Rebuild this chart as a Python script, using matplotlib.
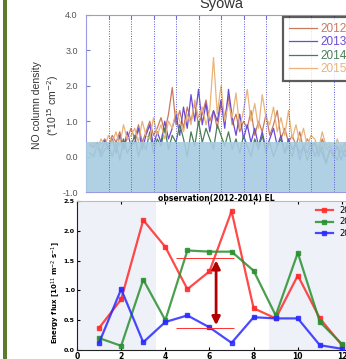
import numpy as np
import matplotlib
matplotlib.use("Agg")
import matplotlib.pyplot as plt
from matplotlib.patches import Rectangle

# ---------------- data: top panel (NO column density, Syowa) ----------------
# sampled every 1/6 month, months 1/6 .. 12
months_top = [(i + 1) / 6 for i in range(72)]
no_2012 = [0.3, 0.25, 0.4, 0.35, 0.5, 0.3,
           0.6, 0.4, 0.7, 0.3, 0.5, 0.8,
           0.5, 0.9, 0.4, 0.7, 1.0, 0.6,
           0.8, 1.1, 0.7, 1.2, 1.95, 0.9,
           1.3, 0.8, 1.4, 1.0, 1.5, 0.9,
           1.2, 1.6, 1.0, 1.3, 0.8, 1.5,
           1.1, 1.7, 0.9, 1.2, 0.7, 1.0,
           0.8, 1.3, 0.6, 1.0, 0.7, 1.2,
           0.6, 0.9, 1.3, 0.5, 0.8, 0.4,
           0.6, 0.3, 0.7, 0.2, 0.5, 0.3,
           0.4, 0.1, 0.5, 0.2, 0.3, 0.0,
           0.3, 0.1, 0.4, -0.1, 0.2, 0.1]
no_2013 = [0.35, 0.3, 0.4, 0.1, 0.45, 0.2,
           0.5, 0.1, 0.6, 0.2, 0.7, 0.3,
           0.4, 0.8, 0.2, 0.6, 0.9, 0.3,
           0.7, 0.4, 1.0, 0.5, 0.8, 1.2,
           0.6, 1.4, 0.8, 1.75, 1.0, 1.9,
           0.9, 1.5, 0.7, 1.3, 1.0, 1.6,
           0.8, 1.9, 1.1, 0.6, 1.2, 0.5,
           0.9, 0.4, 0.8, 0.3, 0.7, 0.2,
           0.5, 0.8, 0.3, 0.6, 0.1, 0.5,
           0.2, 0.4, -0.1, 0.3, 0.1, 0.4,
           0.0, 0.3, 0.1, -0.2, 0.2, 0.0,
           0.3, -0.1, 0.2, 0.0, 0.3, 0.1]
no_2014 = [0.1, 0.0, 0.3, 0.0, 0.2, 0.3,
           0.0, 0.4, -0.1, 0.5, 0.1, 0.3,
           0.6, 0.0, 0.4, 0.2, 0.7, 0.1,
           0.5, 0.3, 0.8, 0.2, 0.6, 0.4,
           0.9, 0.5, 0.0, 0.7, 0.3, 1.0,
           0.4, 0.8, 0.5, 0.2, 0.9, 0.6,
           0.3, 0.7, 0.2, 0.5, 0.1, 0.6,
           0.3, 0.0, 0.5, 0.2, 0.6, 0.1,
           0.4, 0.0, 0.3, 0.5, 0.1, 0.3,
           0.0, 0.4, 0.1, 0.3, -0.1, 0.2,
           0.4, 0.0, 0.3, -0.2, 0.2, 0.1,
           -0.1, 0.3, 0.0, 0.2, -0.3, 0.1]
no_2015 = [0.3, 0.4, 0.2, 0.5, 0.3, 0.6,
           0.4, 0.7, 0.3, 0.9, 0.5, 0.6,
           0.8, 0.4, 1.0, 0.6, 0.5, 1.1,
           0.6, 0.9, 0.5, 1.0, 0.8, 1.3,
           1.0, 0.7, 1.2, 0.9, 1.6, 1.1,
           1.4, 0.9, 1.3, 2.8, 1.2, 2.0,
           1.0, 1.5, 1.1, 1.8, 0.8, 1.3,
           1.9, 1.0, 1.5, 0.8, 1.75, 1.1,
           0.9, 1.4, 0.7, 1.1, 0.6, 1.3,
           0.5, 0.9, 0.4, 0.8, 0.3, 0.6,
           0.5, 0.2, 0.7, 0.3, 0.4, 0.1,
           0.5, 0.2, 0.3, 0.0, 0.4, 0.2]
top_years = ["2012", "2013", "2014", "2015"]
top_colors = ["#c97a5c", "#6a4bd6", "#4a7d57", "#e8b47a"]
top_yticks = [-1.0, 0.0, 1.0, 2.0, 3.0, 4.0]
shade_level = 0.4

# ---------------- data: bottom panel (monthly energy flux) ----------------
months_bot = [1, 2, 3, 4, 5, 6, 7, 8, 9, 10, 11, 12]
flux_red = [0.37, 0.85, 2.18, 1.73, 1.02, 1.32, 2.33, 0.70, 0.53, 1.25, 0.53, 0.08]
flux_green = [0.20, 0.07, 1.18, 0.50, 1.67, 1.65, 1.65, 1.33, 0.58, 1.63, 0.47, 0.10]
flux_blue = [0.12, 1.02, 0.13, 0.47, 0.58, 0.38, 0.12, 0.55, 0.53, 0.53, 0.08, 0.02]
bot_labels = ["2012", "2013", "2014"]
bot_colors = ["#ff2a2a", "#2a9030", "#2a2aff"]
bot_xticks = [0, 2, 4, 6, 8, 10, 12]
bot_yticks = [0.0, 0.5, 1.0, 1.5, 2.0, 2.5]
ref_high, ref_low = 1.55, 0.37
arrow_x = 6.3

W, H = 346, 359
fig = plt.figure(figsize=(W / 100, H / 100), dpi=100)
fig.patch.set_facecolor("white")

def fx(px):
    return px / W

def fy(py):
    return 1 - py / H

# green border on the left
fig.add_artist(Rectangle((fx(3), 0), fx(4), 1, transform=fig.transFigure,
                         facecolor="#5e7a2e", edgecolor="none"))

# ---------------- top axes ----------------
ax1 = fig.add_axes([fx(86), fy(192), fx(270), fy(15) - fy(192)])
for yr, vals, c in zip(top_years, [no_2012, no_2013, no_2014, no_2015], top_colors):
    ax1.plot(months_top, vals, color=c, lw=0.9, label=yr, zorder=2)
ax1.axhspan(-1.0, shade_level, color="#a8cce0", alpha=0.9, zorder=3, lw=0)
for m in range(1, 12):
    ax1.axvline(m, color="#5a5ad8", lw=0.7, ls=(0, (1, 1.5)), zorder=4)
ax1.set_xlim(0, 12)
ax1.set_ylim(-1.0, 4.0)
ax1.set_yticks(top_yticks)
ax1.set_yticklabels([f"{v:.1f}" for v in top_yticks], fontsize=6.5, color="#555555",
                    family="Liberation Sans")
ax1.set_xticks(range(1, 12))
ax1.tick_params(axis="x", which="both", top=True, bottom=False, labelbottom=False,
                direction="in", length=3, color="#7a7ad8")
ax1.tick_params(axis="y", direction="in", length=3, color="#7a7ad8", pad=6)
for s in ax1.spines.values():
    s.set_color("#9a9ae0")
    s.set_linewidth(0.8)
ax1.set_title("Syowa", fontsize=10.5, color="#333333", pad=5, family="Liberation Sans")
fig.text(fx(37), fy(105), "NO column density", rotation=90, ha="center", va="center",
         fontsize=7.5, color="#333333", family="Liberation Sans")
fig.text(fx(53), fy(105), r"(*10$^{15}$ cm$^{-2}$)", rotation=90, ha="center", va="center",
         fontsize=7.5, color="#333333", family="Liberation Sans")
leg1 = ax1.legend(loc="upper left", bbox_to_anchor=(fx(283), fy(17)),
                  bbox_transform=fig.transFigure, borderaxespad=0,
                  handlelength=2.4, handletextpad=0.25, labelcolor="linecolor",
                  frameon=True, fancybox=False,
                  prop={"family": "Liberation Sans", "size": 8.5}, labelspacing=0.12,
                  borderpad=0.5)
leg1.get_frame().set_edgecolor("#333333")
leg1.get_frame().set_linewidth(1.6)
leg1.set_zorder(10)

# ---------------- bottom axes ----------------
ax2 = fig.add_axes([fx(77), fy(350), fx(276), fy(201) - fy(350)])
ax2.axvspan(0, 3.6, color="#eef1f8", lw=0, zorder=0)
ax2.axvspan(8.7, 12.5, color="#eef1f8", lw=0, zorder=0)
for vals, c, lab in zip([flux_red, flux_green, flux_blue], bot_colors, bot_labels):
    ax2.plot(months_bot, vals, color=c, lw=1.6, marker="s", ms=2.2, alpha=0.85,
             label=lab, zorder=3)
ax2.hlines([ref_high, ref_low], 4.5, 7.1, colors="#ff3030", lw=0.7, zorder=4)
ax2.annotate("", xy=(arrow_x, ref_low), xytext=(arrow_x, ref_high),
             arrowprops=dict(arrowstyle="<|-|>", color="#b30000", lw=2.0,
                             mutation_scale=12), zorder=5)
ax2.set_xlim(0, 12.5)
ax2.set_ylim(0, 2.5)
ax2.set_xticks(bot_xticks)
ax2.set_xticklabels([str(v) for v in bot_xticks], fontsize=5.5, fontweight="bold")
ax2.set_yticks(bot_yticks)
ax2.set_yticklabels([f"{v:.1f}" for v in bot_yticks], fontsize=4.5, fontweight="bold")
ax2.tick_params(axis="both", direction="in", length=2.5, top=True, pad=1.5, width=0.8)
for s in ax2.spines.values():
    s.set_color("#222222")
    s.set_linewidth(0.8)
ax2.spines["top"].set_color("#bbbbbb")
ax2.spines["right"].set_color("#bbbbbb")
fig.text(fx(216), fy(198), "observation(2012-2014) EL", ha="center", va="center",
         fontsize=5.5, fontweight="bold", color="black")
fig.text(fx(56), fy(293), r"Energy flux [10$^{11}$ m$^{-2}$ s$^{-1}$]", rotation=90,
         ha="center", va="center", fontsize=5, fontweight="bold", color="black")
leg2 = ax2.legend(loc="upper left", bbox_to_anchor=(fx(316), fy(206)),
                  bbox_transform=fig.transFigure, borderaxespad=0, frameon=False,
                  fontsize=6, handlelength=2.0, labelspacing=0.3, borderpad=0)

fig.savefig("out.png", dpi=100)
